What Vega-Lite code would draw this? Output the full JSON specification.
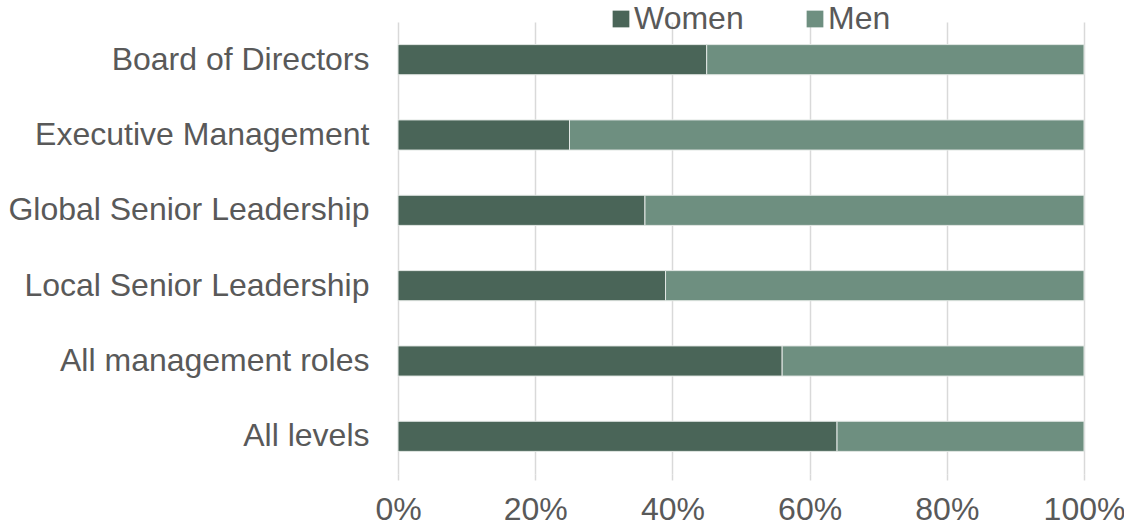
{
  "$schema": "https://vega.github.io/schema/vega-lite/v6.json",
  "width": 686,
  "height": 452,
  "autosize": "none",
  "padding": {"left": 398, "top": 22, "right": 40, "bottom": 51},
  "background": "white",
  "data": {
    "values": [
      {"level": "Board of Directors", "gender": "Women", "share": 45, "ord": 1},
      {"level": "Board of Directors", "gender": "Men", "share": 55, "ord": 2},
      {"level": "Executive Management", "gender": "Women", "share": 25, "ord": 1},
      {"level": "Executive Management", "gender": "Men", "share": 75, "ord": 2},
      {"level": "Global Senior Leadership", "gender": "Women", "share": 36, "ord": 1},
      {"level": "Global Senior Leadership", "gender": "Men", "share": 64, "ord": 2},
      {"level": "Local Senior Leadership", "gender": "Women", "share": 39, "ord": 1},
      {"level": "Local Senior Leadership", "gender": "Men", "share": 61, "ord": 2},
      {"level": "All management roles", "gender": "Women", "share": 56, "ord": 1},
      {"level": "All management roles", "gender": "Men", "share": 44, "ord": 2},
      {"level": "All levels", "gender": "Women", "share": 64, "ord": 1},
      {"level": "All levels", "gender": "Men", "share": 36, "ord": 2}
    ]
  },
  "config": {
    "view": {"stroke": null},
    "font": "Liberation Sans"
  },
  "mark": {"type": "bar", "stroke": "#e3e8e5", "strokeWidth": 1},
  "encoding": {
    "y": {
      "field": "level",
      "type": "nominal",
      "sort": ["Board of Directors", "Executive Management", "Global Senior Leadership", "Local Senior Leadership", "All management roles", "All levels"],
      "scale": {"paddingInner": 0.6, "paddingOuter": 0.3},
      "axis": {
        "title": null,
        "ticks": false,
        "domain": false,
        "labelFontSize": 32,
        "labelColor": "#595959",
        "labelPadding": 29,
        "labelLimit": 400
      }
    },
    "x": {
      "field": "share",
      "type": "quantitative",
      "stack": "zero",
      "scale": {"domain": [0, 100], "nice": false},
      "axis": {
        "title": null,
        "values": [0, 20, 40, 60, 80, 100],
        "labelExpr": "datum.value + '%'",
        "domain": false,
        "grid": true,
        "gridColor": "#d9d9d9",
        "gridWidth": 1.5,
        "ticks": true,
        "tickColor": "#d9d9d9",
        "tickWidth": 1.5,
        "tickSize": 6,
        "labelFontSize": 32,
        "labelColor": "#595959",
        "labelPadding": 14,
        "labelFlush": false
      }
    },
    "color": {
      "field": "gender",
      "type": "nominal",
      "scale": {"domain": ["Women", "Men"], "range": ["#4a6558", "#6e8f80"]},
      "legend": {
        "title": null,
        "orient": "none",
        "legendX": 207,
        "legendY": -19,
        "direction": "horizontal",
        "symbolType": "square",
        "symbolSize": 280,
        "symbolStrokeWidth": 0,
        "labelFontSize": 32,
        "labelColor": "#595959",
        "labelOffset": -3,
        "columnPadding": 55
      }
    },
    "order": {"field": "ord", "type": "quantitative"}
  }
}
